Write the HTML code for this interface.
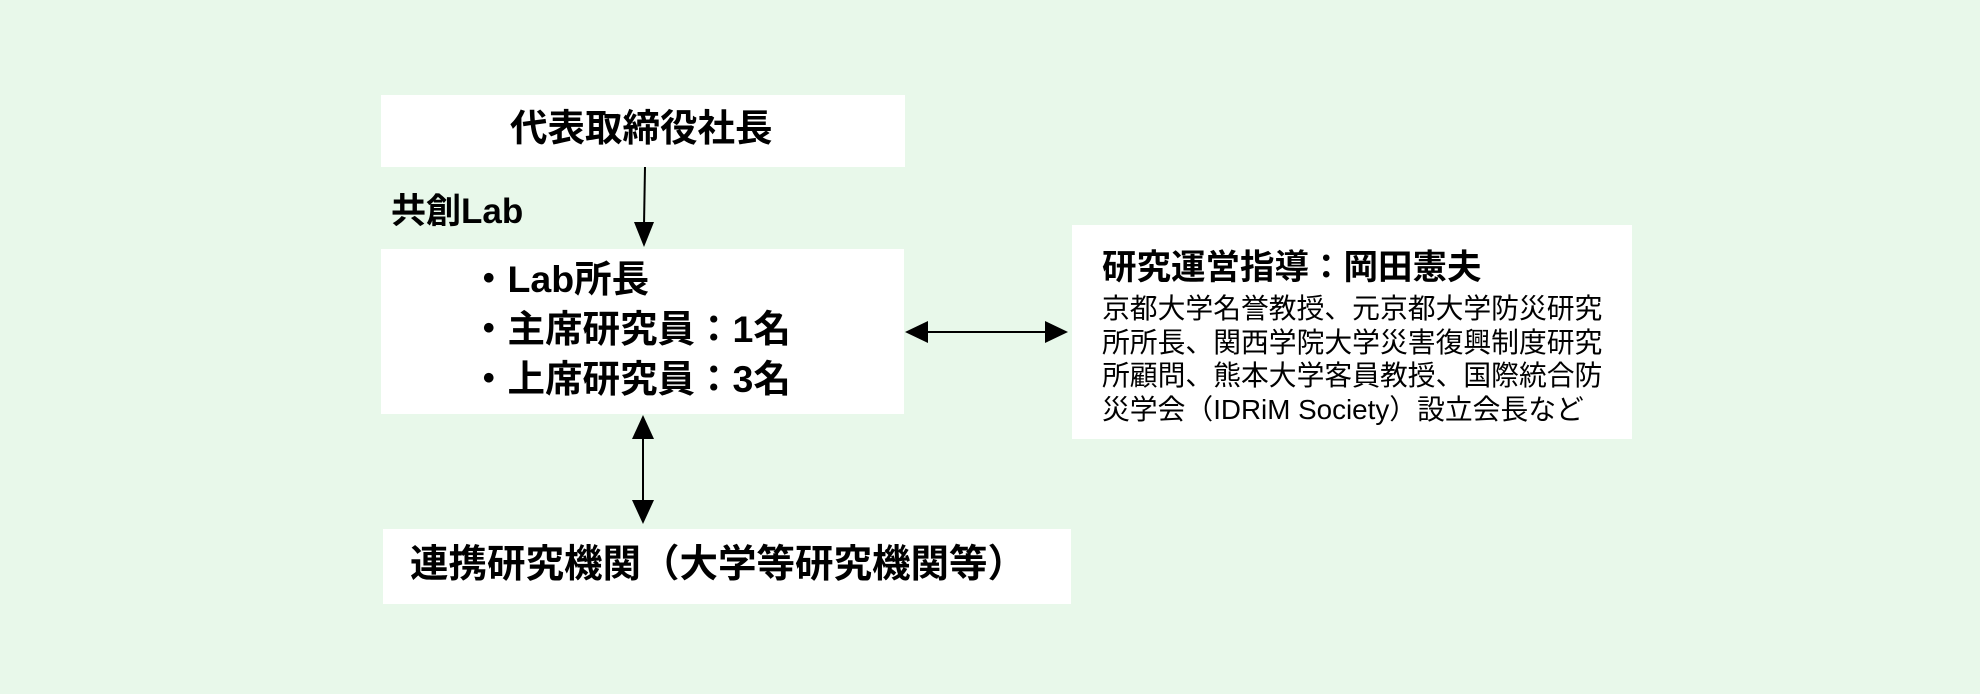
<!DOCTYPE html>
<html><head><meta charset="utf-8"><style>
html,body{margin:0;padding:0}
body{width:1980px;height:694px;background:#e8f8ea;position:relative;overflow:hidden;font-family:"Liberation Sans","Noto Sans CJK JP",sans-serif;color:#000}
.box{position:absolute;background:#fff}
.t{position:absolute;white-space:nowrap;font-weight:bold}
</style></head><body>
<div class="box" style="left:381px;top:95px;width:524px;height:72px"></div>
<div class="t" style="left:510px;top:106px;font-size:37.5px;line-height:44px">代表取締役社長</div>
<div class="t" style="left:391px;top:190px;font-size:35px;line-height:44px">共創Lab</div>
<div class="box" style="left:381px;top:249px;width:523px;height:165px"></div>
<div class="t" style="left:470px;top:254px;font-size:37.5px;line-height:50px">・Lab所長<br>・主席研究員：1名<br>・上席研究員：3名</div>
<div class="box" style="left:1072px;top:225px;width:560px;height:214px"></div>
<div class="t" style="left:1102px;top:246px;font-size:34.5px;line-height:44px">研究運営指導：岡田憲夫</div>
<div class="t" style="left:1102px;top:292px;font-size:27.8px;line-height:33.5px;font-weight:normal">京都大学名誉教授、元京都大学防災研究<br>所所長、関西学院大学災害復興制度研究<br>所顧問、熊本大学客員教授、国際統合防<br>災学会（IDRiM Society）設立会長など</div>
<div class="box" style="left:383px;top:529px;width:688px;height:75px"></div>
<div class="t" style="left:410px;top:543px;font-size:38.5px;line-height:44px">連携研究機関（大学等研究機関等）</div>
<svg width="1980" height="694" style="position:absolute;left:0;top:0">
<g fill="#000" stroke="#000" stroke-width="2">
<line x1="645" y1="167" x2="644" y2="225"/>
<polygon points="634,222 654,222 644,247" stroke="none"/>
<line x1="925" y1="332" x2="1048" y2="332"/>
<polygon points="905,332 928,321 928,343" stroke="none"/>
<polygon points="1068,332 1045,321 1045,343" stroke="none"/>
<line x1="643" y1="436" x2="643" y2="502"/>
<polygon points="643,415 632,439 654,439" stroke="none"/>
<polygon points="643,524 632,500 654,500" stroke="none"/>
</g></svg>
</body></html>
